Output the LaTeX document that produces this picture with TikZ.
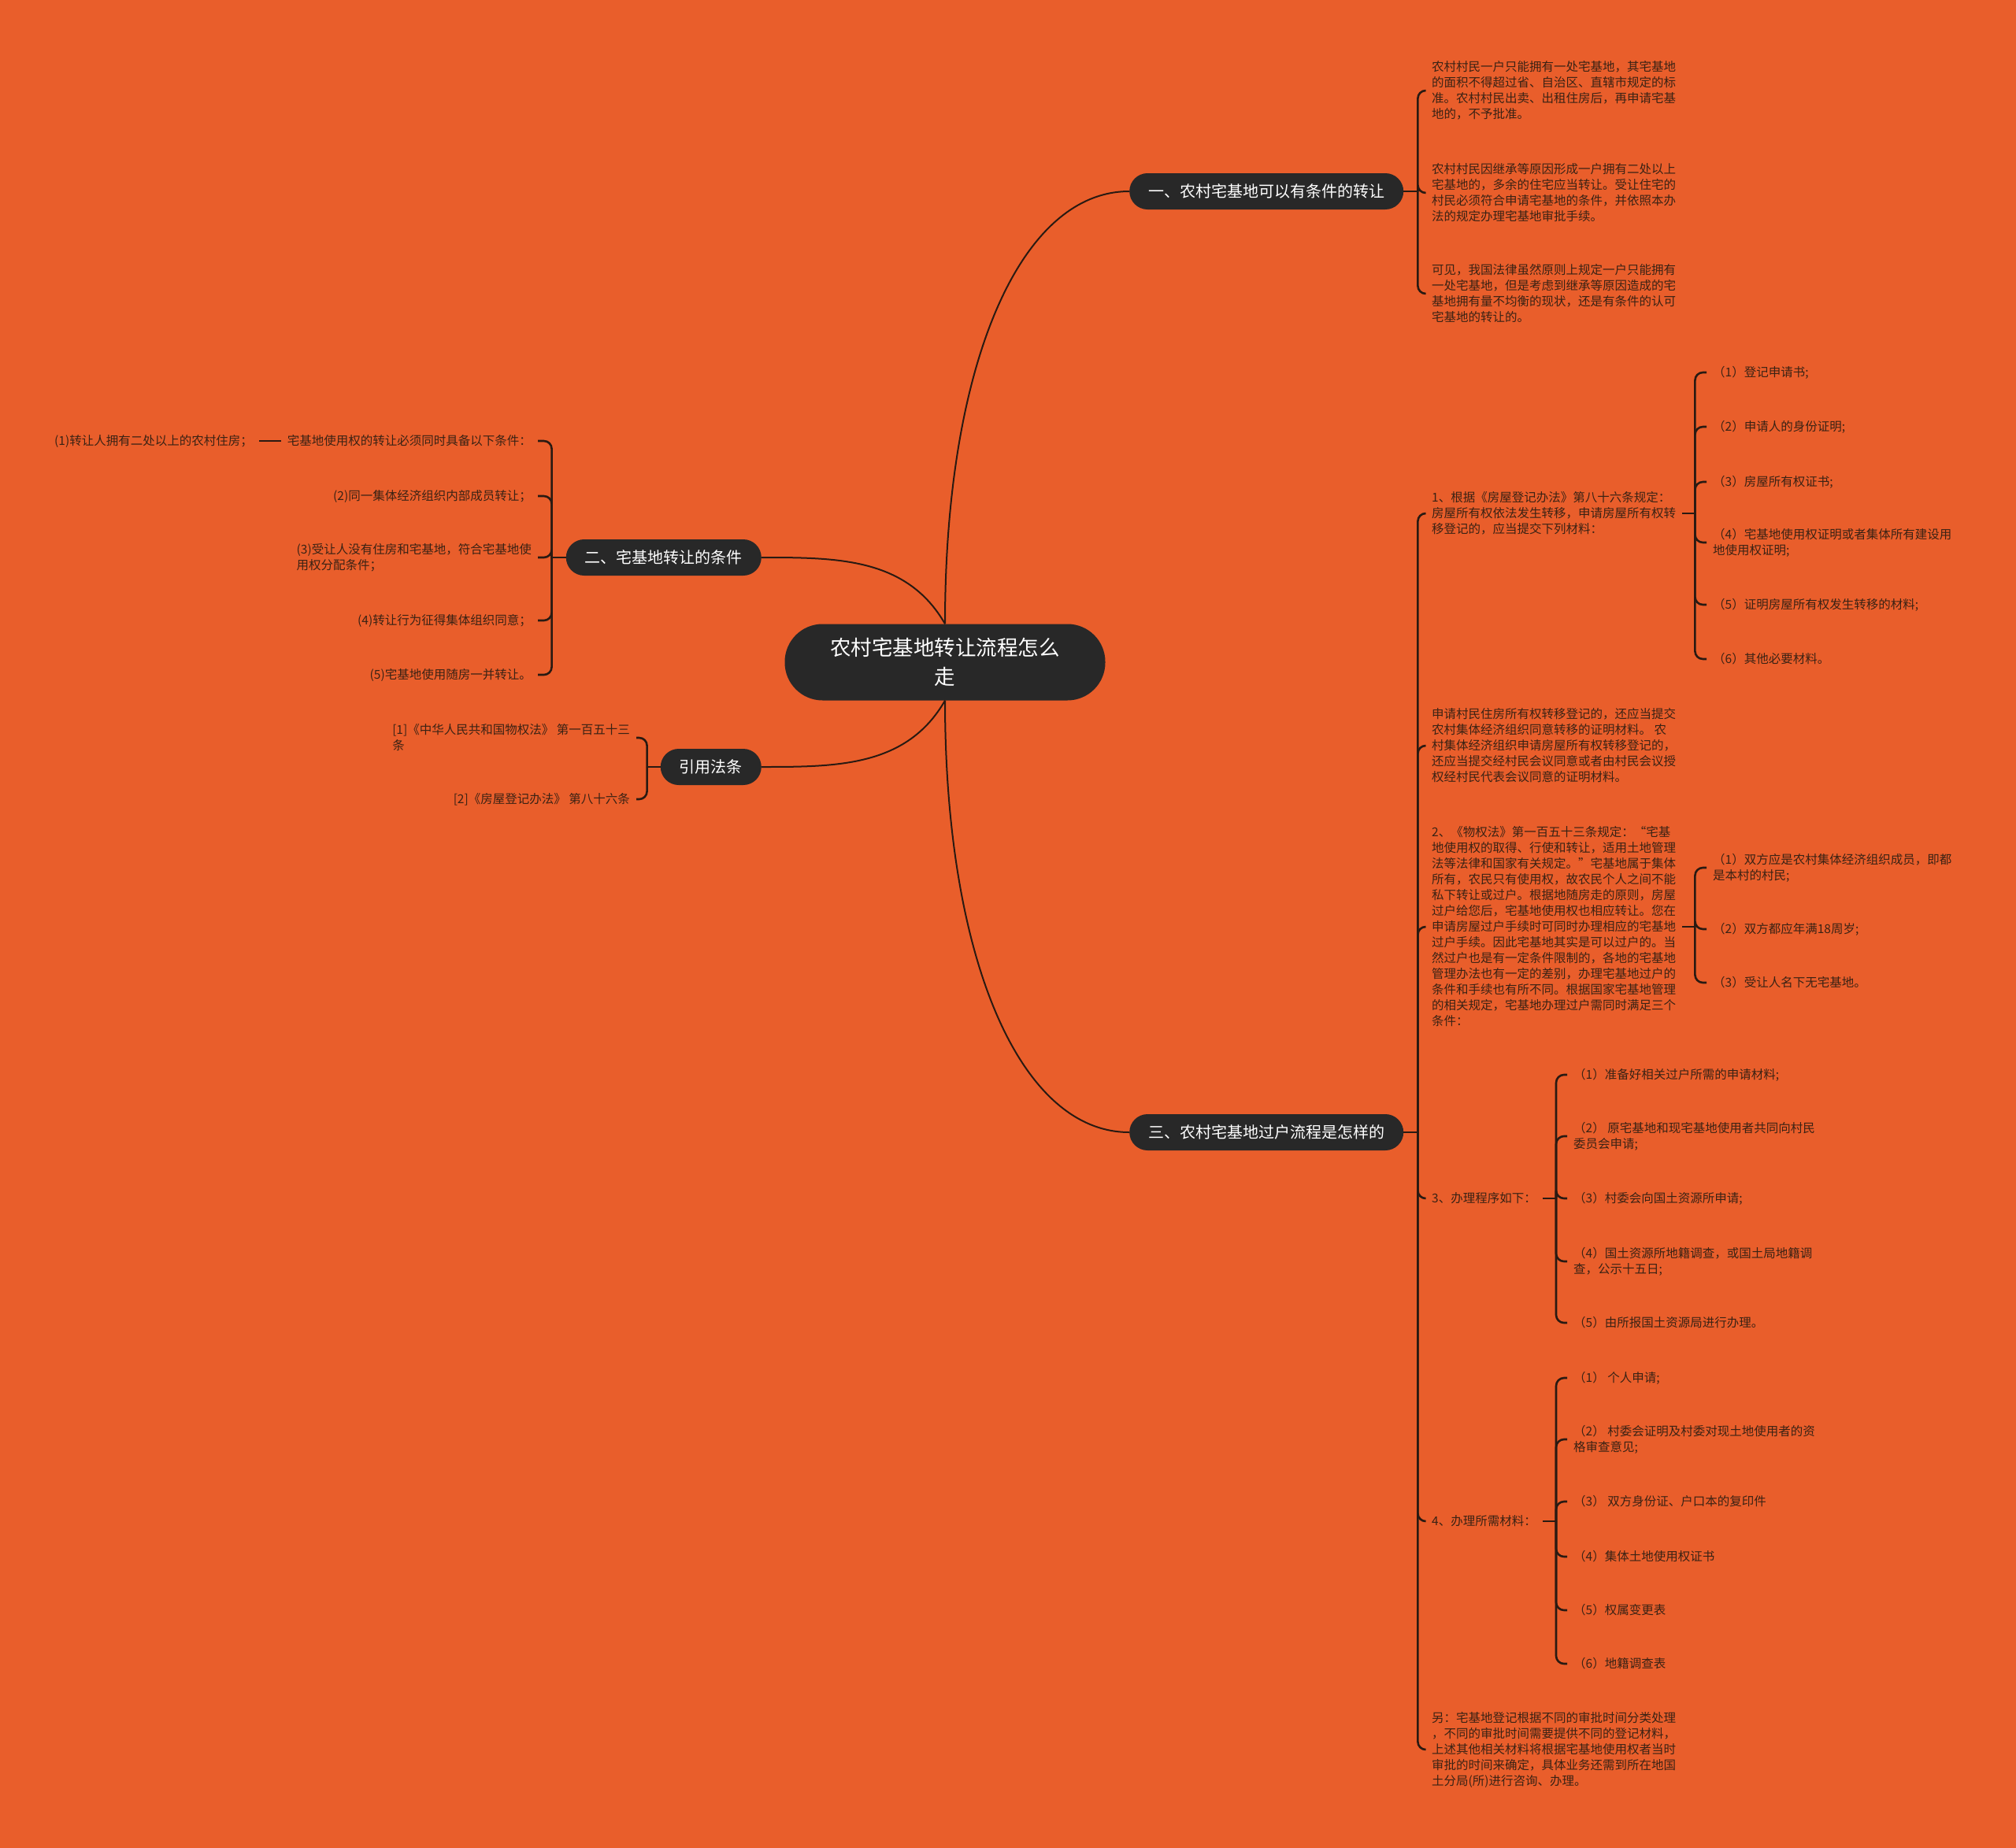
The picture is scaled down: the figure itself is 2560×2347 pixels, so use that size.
\documentclass[tikz,border=0pt]{standalone}
\usepackage{fontspec}
\setmainfont{Noto Sans CJK SC}
\usepackage{xcolor}
\usepackage{tikz}
\definecolor{bgorange}{HTML}{E95E2B}
\definecolor{nodedark}{HTML}{282828}
\definecolor{leafink}{HTML}{3A2214}
\definecolor{linkdark}{HTML}{2A1A12}

\begin{document}
\begin{tikzpicture}[x=1pt, y=1pt,
  rootnode/.style={fill=nodedark, text=white, rounded corners=48pt, minimum width=407pt,
    minimum height=97pt, align=center, font=\fontsize{26.5}{37}\selectfont},
  topicnode/.style={fill=nodedark, text=white, rounded corners=23pt, minimum height=46pt,
    inner xsep=24pt, font=\fontsize{20}{24}\selectfont},
  leafnode/.style={text=leafink, align=left, inner xsep=8pt, inner ysep=0pt,
    font=\fontsize{15.5}{20}\selectfont},
  trunk/.style={draw=linkdark, line width=2pt},
  link/.style={draw=linkdark, line width=2.6pt, rounded corners=10pt}]

  % Background
  \fill[bgorange] (0,0) rectangle (2560,-2347);

  % Root and topics
  \node[rootnode] (root) at (1200,-841) {农村宅基地转让流程怎么\\走};
  \node[topicnode,anchor=west] (b1) at (1434,-243) {一、农村宅基地可以有条件的转让};
  \node[topicnode,anchor=west] (b3) at (1434,-1438) {三、农村宅基地过户流程是怎样的};
  \node[topicnode,anchor=east] (b2) at (967,-708) {二、宅基地转让的条件};
  \node[topicnode,anchor=east] (law) at (967,-974) {引用法条};

  \draw[trunk] (root.north) to[out=90,in=180,out looseness=1.4,in looseness=0.6] (b1.west);
  \draw[trunk] (root.south) to[out=-90,in=180,out looseness=1.4,in looseness=0.6] (b3.west);
  \draw[trunk] (root.north) to[out=120,in=0] (b2.east);
  \draw[trunk] (root.south) to[out=-120,in=0] (law.east);

  % Topic one
  \node[leafnode,anchor=west] (b1a) at (1810,-115)
    {农村村民一户只能拥有一处宅基地，其宅基地\\的面积不得超过省、自治区、直辖市规定的标\\准。农村村民出卖、出租住房后，再申请宅基\\地的，不予批准。};
  \node[leafnode,anchor=west] (b1b) at (1810,-245)
    {农村村民因继承等原因形成一户拥有二处以上\\宅基地的，多余的住宅应当转让。受让住宅的\\村民必须符合申请宅基地的条件，并依照本办\\法的规定办理宅基地审批手续。};
  \node[leafnode,anchor=west] (b1c) at (1810,-373)
    {可见，我国法律虽然原则上规定一户只能拥有\\一处宅基地，但是考虑到继承等原因造成的宅\\基地拥有量不均衡的现状，还是有条件的认可\\宅基地的转让的。};
  \draw[link] (b1.east) -- ++(18,0) coordinate (b1s);
  \foreach \c in {b1a,b1b,b1c}
    \draw[link] (b1s) |- (\c.west);

  % Topic two
  \node[leafnode,anchor=east] (l1) at (683,-560) {宅基地使用权的转让必须同时具备以下条件：};
  \node[leafnode,anchor=east] (l1c) at (329,-560) {(1)转让人拥有二处以上的农村住房；};
  \node[leafnode,anchor=east] (l2) at (683,-630) {(2)同一集体经济组织内部成员转让；};
  \node[leafnode,anchor=east] (l3) at (683,-708) {(3)受让人没有住房和宅基地，符合宅基地使\\用权分配条件；};
  \node[leafnode,anchor=east] (l4) at (683,-788) {(4)转让行为征得集体组织同意；};
  \node[leafnode,anchor=east] (l5) at (683,-857) {(5)宅基地使用随房一并转让。};
  \draw[link] (b2.west) -- ++(-18,0) coordinate (b2s);
  \foreach \c in {l1,l2,l3,l4,l5}
    \draw[link] (b2s) |- (\c.east);
  \draw[link] (l1.west) -- (l1c.east);

  % Cited laws
  \node[leafnode,anchor=east] (r1) at (808,-937) {[1]《中华人民共和国物权法》 第一百五十三\\条};
  \node[leafnode,anchor=east] (r2) at (808,-1015) {[2]《房屋登记办法》 第八十六条};
  \draw[link] (law.west) -- ++(-17,0) coordinate (laws);
  \foreach \c in {r1,r2}
    \draw[link] (laws) |- (\c.east);

  % Topic three
  \node[leafnode,anchor=west] (c1) at (1810,-652)
    {1、根据《房屋登记办法》第八十六条规定：\\房屋所有权依法发生转移，申请房屋所有权转\\移登记的，应当提交下列材料：};
  \node[leafnode,anchor=west] (c2) at (1810,-947)
    {申请村民住房所有权转移登记的，还应当提交\\农村集体经济组织同意转移的证明材料。 农\\村集体经济组织申请房屋所有权转移登记的，\\还应当提交经村民会议同意或者由村民会议授\\权经村民代表会议同意的证明材料。};
  \node[leafnode,anchor=west] (c3) at (1810,-1177)
    {2、《物权法》第一百五十三条规定：“宅基\\地使用权的取得、行使和转让，适用土地管理\\法等法律和国家有关规定。”宅基地属于集体\\所有，农民只有使用权，故农民个人之间不能\\私下转让或过户。根据地随房走的原则，房屋\\过户给您后，宅基地使用权也相应转让。您在\\申请房屋过户手续时可同时办理相应的宅基地\\过户手续。因此宅基地其实是可以过户的。当\\然过户也是有一定条件限制的，各地的宅基地\\管理办法也有一定的差别，办理宅基地过户的\\条件和手续也有所不同。根据国家宅基地管理\\的相关规定，宅基地办理过户需同时满足三个\\条件：};
  \node[leafnode,anchor=west] (c4) at (1810,-1522) {3、办理程序如下：};
  \node[leafnode,anchor=west] (c5) at (1810,-1932) {4、办理所需材料：};
  \node[leafnode,anchor=west] (c6) at (1810,-2222)
    {另：宅基地登记根据不同的审批时间分类处理\\，不同的审批时间需要提供不同的登记材料，\\上述其他相关材料将根据宅基地使用权者当时\\审批的时间来确定，具体业务还需到所在地国\\土分局(所)进行咨询、办理。};
  \draw[link] (b3.east) -- ++(18,0) coordinate (b3s);
  \foreach \c in {c1,c2,c3,c4,c5,c6}
    \draw[link] (b3s) |- (\c.west);

  % Materials list
  \node[leafnode,anchor=west] (c1a) at (2167,-473) {（1）登记申请书;};
  \node[leafnode,anchor=west] (c1b) at (2167,-542) {（2）申请人的身份证明;};
  \node[leafnode,anchor=west] (c1c) at (2167,-612) {（3）房屋所有权证书;};
  \node[leafnode,anchor=west] (c1d) at (2167,-689) {（4）宅基地使用权证明或者集体所有建设用\\地使用权证明;};
  \node[leafnode,anchor=west] (c1e) at (2167,-768) {（5）证明房屋所有权发生转移的材料;};
  \node[leafnode,anchor=west] (c1f) at (2167,-837) {（6）其他必要材料。};
  \draw[link] (c1.east) -- ++(16,0) coordinate (c1s);
  \foreach \c in {c1a,c1b,c1c,c1d,c1e,c1f}
    \draw[link] (c1s) |- (\c.west);

  % Three conditions
  \node[leafnode,anchor=west] (c3a) at (2167,-1102) {（1）双方应是农村集体经济组织成员，即都\\是本村的村民;};
  \node[leafnode,anchor=west] (c3b) at (2167,-1180) {（2）双方都应年满18周岁;};
  \node[leafnode,anchor=west] (c3c) at (2167,-1248) {（3）受让人名下无宅基地。};
  \draw[link] (c3.east) -- ++(16,0) coordinate (c3s);
  \foreach \c in {c3a,c3b,c3c}
    \draw[link] (c3s) |- (\c.west);

  % Procedure
  \node[leafnode,anchor=west] (c4a) at (1990,-1365) {（1）准备好相关过户所需的申请材料;};
  \node[leafnode,anchor=west] (c4b) at (1990,-1443) {（2） 原宅基地和现宅基地使用者共同向村民\\委员会申请;};
  \node[leafnode,anchor=west] (c4c) at (1990,-1522) {（3）村委会向国土资源所申请;};
  \node[leafnode,anchor=west] (c4d) at (1990,-1602) {（4）国土资源所地籍调查，或国土局地籍调\\查，公示十五日;};
  \node[leafnode,anchor=west] (c4e) at (1990,-1680) {（5）由所报国土资源局进行办理。};
  \draw[link] (c4.east) -- ++(17,0) coordinate (c4s);
  \foreach \c in {c4a,c4b,c4c,c4d,c4e}
    \draw[link] (c4s) |- (\c.west);

  % Required documents
  \node[leafnode,anchor=west] (c5a) at (1990,-1750) {（1） 个人申请;};
  \node[leafnode,anchor=west] (c5b) at (1990,-1828) {（2） 村委会证明及村委对现土地使用者的资\\格审查意见;};
  \node[leafnode,anchor=west] (c5c) at (1990,-1907) {（3） 双方身份证、户口本的复印件};
  \node[leafnode,anchor=west] (c5d) at (1990,-1977) {（4）集体土地使用权证书};
  \node[leafnode,anchor=west] (c5e) at (1990,-2045) {（5）权属变更表};
  \node[leafnode,anchor=west] (c5f) at (1990,-2113) {（6）地籍调查表};
  \draw[link] (c5.east) -- ++(17,0) coordinate (c5s);
  \foreach \c in {c5a,c5b,c5c,c5d,c5e,c5f}
    \draw[link] (c5s) |- (\c.west);
\end{tikzpicture}
\end{document}
